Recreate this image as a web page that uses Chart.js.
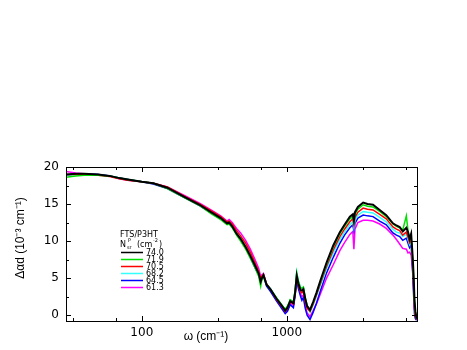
<!DOCTYPE html>
<html>
<head>
<meta charset="utf-8">
<script src="https://cdn.jsdelivr.net/npm/chart.js@4/dist/chart.umd.min.js"></script>
<style>
  body { margin: 0; background: #fff; }
  canvas { display: block; }
</style>
</head>
<body>
<canvas id="pollChart" width="467" height="350"></canvas>
<script>
'use strict';

// wavenumber (cm^-1)
var omega = [30, 35, 40, 50, 60, 70, 80, 100, 120, 150,
  195, 250, 300, 350, 387, 400, 420, 450, 480, 520,
  560, 600, 640, 660, 670, 690, 725, 770, 850, 920,
  975, 1010, 1055, 1110, 1140, 1170, 1200, 1240, 1270, 1300,
  1340, 1380,
  1445, 1520, 1600, 1700, 1880, 2090, 2320, 2500, 2720, 2850,
  2900, 2950, 3090, 3360, 3600, 3930, 4370, 4850, 5390, 5700,
  6000, 6300, 6670, 6850, 7020, 7200, 7390, 7500, 7590, 7700,
  7850];

// delta alpha d (10^-3 cm^-1), one list per N_sr^P
var s740 = [19.0, 19.1, 19.1, 19.0, 18.8, 18.5, 18.3, 18.0, 17.8, 17.2,
  16.0, 14.9, 13.9, 13.1, 12.4, 12.5, 12.0, 11.0, 10.3, 9.2,
  8.0, 6.8, 5.6, 4.5, 4.9, 5.4, 4.1, 3.5, 2.2, 1.3,
  0.6, 1.0, 1.9, 1.6, 3.0, 5.3, 4.3, 3.4, 3.3, 3.5,
  2.2, 1.2,
  0.7, 1.8, 3.0, 4.6, 7.1, 9.4, 11.2, 12.2, 13.3, 13.6,
  12.8, 13.9, 14.6, 15.2, 15.0, 14.9, 14.2, 13.5, 12.4, 12.1,
  11.9, 11.3, 11.8, 11.2, 10.3, 11.0, 7.6, 5.0, 2.1, 0.5,
  -0.5];
var s719 = [18.6, 18.8, 18.9, 18.9, 18.8, 18.5, 18.3, 18.0, 17.8, 17.1,
  15.9, 14.8, 13.7, 12.9, 12.2, 12.3, 11.8, 10.8, 10.0, 8.9,
  7.7, 6.5, 5.2, 3.9, 4.6, 5.3, 4.1, 3.5, 2.3, 1.4,
  0.8, 1.2, 2.1, 1.8, 3.3, 5.7, 4.6, 3.7, 3.6, 3.8,
  2.4, 1.3,
  0.6, 1.7, 2.9, 4.4, 6.9, 9.2, 11.0, 12.0, 13.0, 13.3,
  12.6, 13.6, 14.3, 14.9, 14.7, 14.6, 14.0, 13.3, 12.3, 12.0,
  11.8, 11.5, 13.4, 11.4, 10.2, 10.6, 7.2, 4.6, 1.8, 0.4,
  -0.5];
var s705 = [19.0, 19.0, 19.0, 18.9, 18.7, 18.4, 18.2, 18.0, 17.8, 17.3,
  16.1, 15.0, 14.1, 13.3, 12.6, 12.7, 12.3, 11.4, 10.7, 9.7,
  8.5, 7.2, 5.9, 5.0, 5.2, 5.5, 4.2, 3.5, 2.1, 1.2,
  0.5, 0.9, 1.8, 1.5, 2.9, 5.2, 4.1, 3.2, 3.0, 3.2,
  1.8, 0.9,
  0.5, 1.5, 2.7, 4.2, 6.6, 8.8, 10.6, 11.6, 12.6, 13.0,
  12.2, 13.2, 13.9, 14.45, 14.3, 14.2, 13.6, 13.0, 11.9, 11.6,
  11.4, 10.8, 11.2, 10.5, 9.8, 10.3, 6.5, 3.5, 1.0, -0.2,
  -0.6];
var s682 = [18.9, 19.0, 19.0, 19.0, 18.8, 18.5, 18.3, 18.0, 17.8, 17.2,
  16.0, 14.9, 13.9, 13.1, 12.4, 12.5, 12.0, 11.1, 10.4, 9.3,
  8.1, 6.9, 5.7, 4.8, 5.1, 5.5, 4.2, 3.6, 2.3, 1.4,
  0.7, 1.1, 2.0, 1.8, 3.3, 5.8, 4.7, 3.8, 3.6, 3.7,
  2.3, 1.2,
  0.4, 1.4, 2.6, 4.0, 6.3, 8.4, 10.2, 11.2, 12.2, 12.6,
  11.8, 12.8, 13.5, 14.0, 13.9, 13.8, 13.2, 12.6, 11.6, 11.2,
  11.1, 10.6, 10.9, 10.2, 9.5, 9.9, 6.8, 4.2, 1.6, 0.2,
  -0.5];
var s645 = [18.9, 19.1, 19.1, 19.0, 18.8, 18.5, 18.3, 18.0, 17.7, 17.1,
  15.9, 14.8, 13.8, 13.0, 12.3, 12.4, 11.9, 11.0, 10.2, 9.1,
  7.8, 6.5, 5.4, 4.6, 5.0, 5.3, 3.9, 3.2, 1.9, 0.9,
  0.2, 0.5, 1.4, 1.0, 2.6, 4.8, 3.6, 2.6, 2.0, 2.4,
  0.9, 0.0,
  -0.6, 0.4, 1.6, 3.2, 5.7, 7.8, 9.7, 10.8, 11.8, 12.2,
  11.4, 12.4, 13.1, 13.5, 13.4, 13.3, 12.7, 12.2, 11.1, 10.8,
  10.6, 10.1, 10.4, 9.7, 9.1, 9.5, 5.5, 2.4, 0.2, -0.5,
  -0.7];
var s613 = [19.4, 19.2, 19.1, 19.0, 18.8, 18.4, 18.2, 18.0, 17.8, 17.3,
  16.2, 15.1, 14.2, 13.4, 12.7, 12.9, 12.5, 11.7, 11.1, 10.1,
  8.9, 7.6, 6.3, 5.2, 5.4, 5.6, 4.2, 3.4, 2.0, 1.1,
  0.3, 0.7, 1.6, 1.3, 2.8, 5.0, 3.9, 2.9, 2.5, 2.7,
  1.2, 0.3,
  -0.2, 0.6, 1.5, 2.8, 5.0, 6.8, 8.7, 9.8, 10.9, 11.3,
  8.9, 11.6, 12.5, 12.8, 12.8, 12.7, 12.3, 11.7, 10.8, 10.2,
  9.6, 9.0, 8.9, 8.4, 8.5, 8.1, 5.8, 3.0, 0.8, -0.3,
  -0.6];

var seriesLabels = ['74.0', '71.9', '70.5', '68.2', '64.5', '61.3'];
var seriesValues = [s740, s719, s705, s682, s645, s613];
var seriesColors = ['#000000', '#00e000', '#ff0000', '#33ffff', '#0000ff', '#ff00ff'];

var xMajorTicks = [100, 1000];
var xMinorTicks = [33.3, 66.7, 333, 667, 3333, 6667];
var yTicks = [0, 2.5, 5, 7.5, 10, 12.5, 15, 17.5, 20];

function toPoints(vals) {
  return vals.map(function (v, i) { return { x: omega[i], y: v }; });
}

var datasets = seriesValues.map(function (vals, i) {
  return {
    label: seriesLabels[i],
    data: toPoints(vals),
    borderColor: seriesColors[i],
    borderWidth: i === 0 ? 2 : 1.5,
    pointRadius: 0,
    tension: 0,
    fill: false
  };
});

// frame, inward ticks, titles and the in-plot legend
var decorations = {
  id: 'decorations',
  afterDraw: function (chart) {
    var ctx = chart.ctx;
    var a = chart.chartArea;
    var xs = chart.scales.x, ys = chart.scales.y;
    ctx.save();
    ctx.strokeStyle = '#000';
    ctx.lineWidth = 1;
    ctx.strokeRect(a.left + 0.5, a.top + 0.5, a.right - a.left, a.bottom - a.top);

    ctx.beginPath();
    yTicks.forEach(function (v) {
      var py = Math.round(ys.getPixelForValue(v)) + 0.5;
      var len = (v % 5 === 0) ? 5 : 3;
      ctx.moveTo(a.left, py); ctx.lineTo(a.left + len, py);
      ctx.moveTo(a.right, py); ctx.lineTo(a.right - len, py);
    });
    xMajorTicks.concat(xMinorTicks).forEach(function (v) {
      var px = Math.round(xs.getPixelForValue(v)) + 0.5;
      var len = xMajorTicks.indexOf(v) >= 0 ? 5 : 3;
      ctx.moveTo(px, a.bottom); ctx.lineTo(px, a.bottom - len);
      ctx.moveTo(px, a.top); ctx.lineTo(px, a.top + len);
    });
    ctx.stroke();

    // axis titles
    ctx.fillStyle = '#000';
    ctx.font = '12px "Liberation Sans", Arial, sans-serif';
    ctx.textAlign = 'center';
    ctx.textBaseline = 'middle';
    ctx.fillText('\u03c9 (cm\u207b\u00b9)', 206, 337);
    ctx.save();
    ctx.translate(21, 238);
    ctx.rotate(-Math.PI / 2);
    ctx.fillText('\u0394\u03b1d (10\u207b\u00b3 cm\u207b\u00b9)', 0, 0);
    ctx.restore();

    // legend
    ctx.textAlign = 'left';
    ctx.font = '8px "DejaVu Sans", sans-serif';
    ctx.fillText('FTS/P3HT', 120, 235);
    ctx.fillText('N', 120, 245);
    ctx.font = '5px "DejaVu Sans", sans-serif';
    ctx.fillText('sr', 127, 248);
    ctx.fillText('P', 128, 241);
    ctx.font = '8px "DejaVu Sans", sans-serif';
    ctx.fillText('(cm', 137, 245);
    ctx.font = '5px "DejaVu Sans", sans-serif';
    ctx.fillText('-2', 153, 241);
    ctx.font = '8px "DejaVu Sans", sans-serif';
    ctx.fillText(')', 159, 245);
    seriesLabels.forEach(function (lab, i) {
      var py = 252.5 + i * 7;
      ctx.strokeStyle = seriesColors[i];
      ctx.lineWidth = 1.5;
      ctx.beginPath();
      ctx.moveTo(121, py); ctx.lineTo(143, py);
      ctx.stroke();
      ctx.fillText(lab, 146, py);
    });
    ctx.restore();
  }
};

var ctx = document.getElementById('pollChart').getContext('2d');
var myChart = new Chart(ctx, {
  type: 'line',
  data: { datasets: datasets },
  options: {
    responsive: false,
    animation: false,
    layout: { padding: { left: 0, right: 50, top: 167, bottom: 0 } },
    plugins: { legend: { display: false }, tooltip: { enabled: false } },
    scales: {
      x: {
        type: 'logarithmic',
        min: 30,
        max: 7900,
        afterBuildTicks: function (scale) {
          scale.ticks = xMajorTicks.map(function (v) { return { value: v }; });
        },
        afterFit: function (scale) { scale.height = 29; },
        grid: { display: false, drawTicks: false },
        border: { display: false },
        ticks: {
          padding: 5,
          color: '#000',
          maxRotation: 0,
          font: { family: '"DejaVu Sans", sans-serif', size: 12 },
          callback: function (v) { return String(v); }
        }
      },
      y: {
        type: 'linear',
        min: -0.8,
        max: 20,
        afterBuildTicks: function (scale) {
          scale.ticks = yTicks.map(function (v) { return { value: v }; });
        },
        afterFit: function (scale) { scale.width = 66; },
        grid: { display: false, drawTicks: false },
        border: { display: false },
        ticks: {
          padding: 7,
          color: '#000',
          font: { family: '"DejaVu Sans", sans-serif', size: 12 },
          callback: function (v) { return v % 5 === 0 ? String(v) : ''; }
        }
      }
    }
  },
  plugins: [decorations]
});
</script>
</body>
</html>
